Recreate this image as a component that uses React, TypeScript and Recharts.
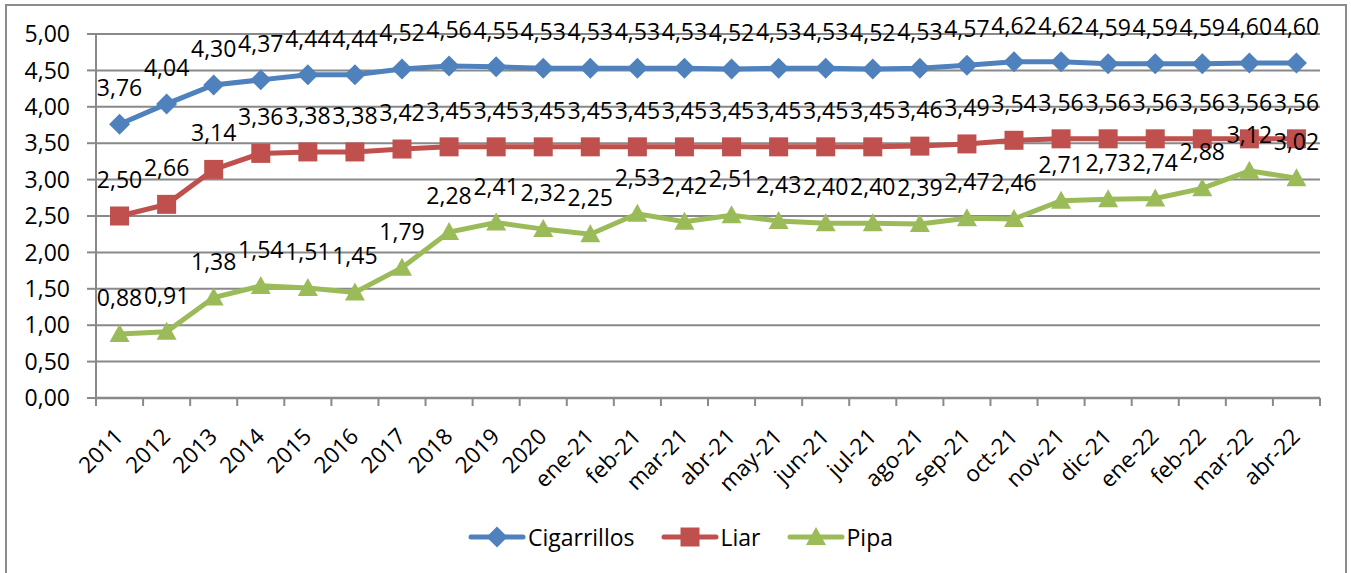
import React from 'react';
import { LineChart, Line, XAxis, YAxis, CartesianGrid, Legend } from 'recharts';

const categories = ['2011', '2012', '2013', '2014', '2015', '2016', '2017', '2018', '2019', '2020',
  'ene-21', 'feb-21', 'mar-21', 'abr-21', 'may-21', 'jun-21', 'jul-21', 'ago-21', 'sep-21', 'oct-21',
  'nov-21', 'dic-21', 'ene-22', 'feb-22', 'mar-22', 'abr-22'];

const cigarrillos = [3.76, 4.04, 4.30, 4.37, 4.44, 4.44, 4.52, 4.56, 4.55, 4.53,
  4.53, 4.53, 4.53, 4.52, 4.53, 4.53, 4.52, 4.53, 4.57, 4.62,
  4.62, 4.59, 4.59, 4.59, 4.60, 4.60];

const liar = [2.50, 2.66, 3.14, 3.36, 3.38, 3.38, 3.42, 3.45, 3.45, 3.45,
  3.45, 3.45, 3.45, 3.45, 3.45, 3.45, 3.45, 3.46, 3.49, 3.54,
  3.56, 3.56, 3.56, 3.56, 3.56, 3.56];

const pipa = [0.88, 0.91, 1.38, 1.54, 1.51, 1.45, 1.79, 2.28, 2.41, 2.32,
  2.25, 2.53, 2.42, 2.51, 2.43, 2.40, 2.40, 2.39, 2.47, 2.46,
  2.71, 2.73, 2.74, 2.88, 3.12, 3.02];

const yTicks = [0, 0.5, 1, 1.5, 2, 2.5, 3, 3.5, 4, 4.5, 5];

const data = categories.map((c, i) => ({
  cat: c,
  Cigarrillos: cigarrillos[i],
  Liar: liar[i],
  Pipa: pipa[i],
}));

const W = 1351;
const H = 573;
const MARGIN = { top: 34, right: 31, left: 0, bottom: 20 };
const Y_AXIS_W = 96;
const PLOT_W = W - MARGIN.right - Y_AXIS_W;
const BAND = PLOT_W / categories.length;

const FONT = '"Open Sans", sans-serif';
const GRID = '#898989';
const BLUE = '#4F81BD';
const RED = '#C0504D';
const GREEN = '#9BBB59';

const fmt = (v: number) => v.toFixed(2).replace('.', ',');

const Diamond = ({ cx, cy, color }: any) => (
  <polygon points={`${cx},${cy - 10.5} ${cx + 10.5},${cy} ${cx},${cy + 10.5} ${cx - 10.5},${cy}`} fill={color} />
);
const Square = ({ cx, cy, color }: any) => (
  <rect x={cx - 9.5} y={cy - 9.5} width={19} height={19} fill={color} />
);
const Triangle = ({ cx, cy, color }: any) => (
  <polygon points={`${cx},${cy - 10} ${cx + 10},${cy + 8} ${cx - 10},${cy + 8}`} fill={color} />
);

const makeDot = (Shape: any, color: string) => (props: any) => {
  const { cx, cy, index } = props;
  if (cx == null || cy == null) return <g key={`d-${index}`} />;
  return <Shape key={`d-${index}`} cx={cx} cy={cy} color={color} />;
};

const renderLabel = (props: any) => {
  const { x, y, value, index } = props;
  if (x == null || y == null) return null;
  return (
    <text key={`l-${index}`} x={x} y={y - 28} textAnchor="middle" fontFamily={FONT} fontSize={23} fill="#000">
      {fmt(Number(value))}
    </text>
  );
};

const XTick = (props: any) => {
  const { x, y, payload, index } = props;
  const last = index === categories.length - 1;
  return (
    <g>
      <line x1={x - BAND / 2} x2={x - BAND / 2} y1={y} y2={y + 8} stroke={GRID} strokeWidth={2} />
      {last && <line x1={x + BAND / 2} x2={x + BAND / 2} y1={y} y2={y + 8} stroke={GRID} strokeWidth={2} />}
      <text
        x={x + 5}
        y={y + 40}
        textAnchor="end"
        transform={`rotate(-45 ${x + 5} ${y + 40})`}
        fontFamily={FONT}
        fontSize={22.5}
        fill="#000"
      >
        {payload.value}
      </text>
    </g>
  );
};

const legendItems = [
  { name: 'Cigarrillos', color: BLUE, Shape: Diamond },
  { name: 'Liar', color: RED, Shape: Square },
  { name: 'Pipa', color: GREEN, Shape: Triangle },
];

const LegendContent = () => (
  <div style={{ display: 'flex', justifyContent: 'center', alignItems: 'center', height: 40, paddingLeft: 10 }}>
    {legendItems.map((it, i) => (
      <div key={it.name} style={{ display: 'flex', alignItems: 'center', marginRight: i < legendItems.length - 1 ? 26 : 0 }}>
        <svg width={58} height={24} style={{ display: 'block' }}>
          <line x1={3} x2={55} y1={12} y2={12} stroke={it.color} strokeWidth={5} strokeLinecap="round" />
          <it.Shape cx={29} cy={12} color={it.color} />
        </svg>
        <span style={{ fontFamily: FONT, fontSize: 23, color: '#000', marginLeft: 2, lineHeight: '24px' }}>{it.name}</span>
      </div>
    ))}
  </div>
);

export default function App() {
  return (
    <div style={{ position: 'absolute', left: 0, top: 0, width: W, height: H, background: '#fff' }}>
      <div
        style={{
          position: 'absolute',
          left: 5,
          top: 4,
          width: 1342,
          height: 600,
          border: '2px solid #8c8c8c',
          boxSizing: 'border-box',
        }}
      />
      <div style={{ position: 'absolute', left: 0, top: 0 }}>
        <LineChart width={W} height={H} data={data} margin={MARGIN}>
          <CartesianGrid vertical={false} stroke={GRID} strokeWidth={2} />
          <XAxis
            dataKey="cat"
            scale="band"
            interval={0}
            tickLine={false}
            tickSize={0}
            tickMargin={0}
            height={115}
            axisLine={{ stroke: GRID, strokeWidth: 2.5 }}
            tick={<XTick />}
          />
          <YAxis
            domain={[0, 5]}
            ticks={yTicks}
            width={Y_AXIS_W}
            tickSize={9}
            tickMargin={17}
            tickFormatter={fmt}
            axisLine={{ stroke: GRID, strokeWidth: 2 }}
            tickLine={{ stroke: GRID, strokeWidth: 2 }}
            tick={{ fontFamily: FONT, fontSize: 23, fill: '#000' }}
            interval={0}
          />
          <Legend
            verticalAlign="bottom"
            height={40}
            content={<LegendContent />}
            wrapperStyle={{ position: 'absolute', top: 517, left: 0, width: W, height: 40 }}
          />
          <Line
            dataKey="Cigarrillos"
            stroke={BLUE}
            strokeWidth={5}
            isAnimationActive={false}
            dot={makeDot(Diamond, BLUE)}
            activeDot={false}
            label={renderLabel}
          />
          <Line
            dataKey="Liar"
            stroke={RED}
            strokeWidth={5}
            isAnimationActive={false}
            dot={makeDot(Square, RED)}
            activeDot={false}
            label={renderLabel}
          />
          <Line
            dataKey="Pipa"
            stroke={GREEN}
            strokeWidth={5}
            isAnimationActive={false}
            dot={makeDot(Triangle, GREEN)}
            activeDot={false}
            label={renderLabel}
          />
        </LineChart>
      </div>
    </div>
  );
}
